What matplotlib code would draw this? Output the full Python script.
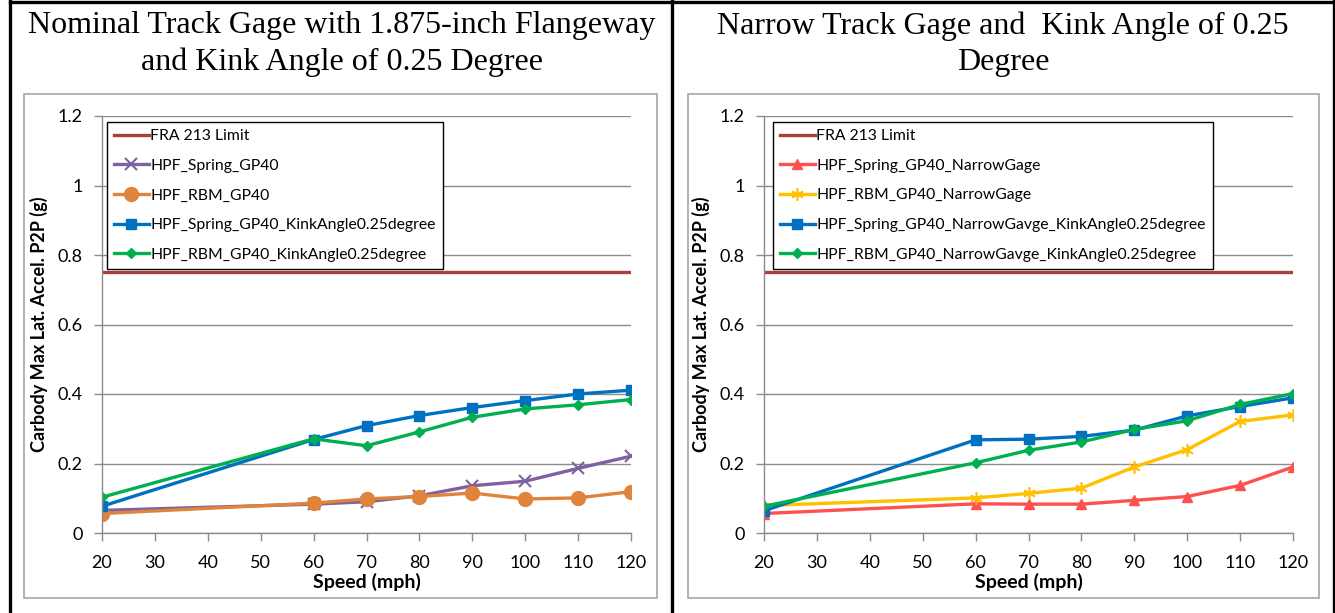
import matplotlib
matplotlib.use("Agg")
import matplotlib.pyplot as plt
from matplotlib.patches import Rectangle
from matplotlib.lines import Line2D

speeds = [20, 60, 70, 80, 90, 100, 110, 120]
fra_limit = 0.75

# Left chart
spring_gp40 = [0.065, 0.083, 0.090, 0.107, 0.136, 0.149, 0.186, 0.221]
rbm_gp40 = [0.056, 0.086, 0.098, 0.105, 0.115, 0.098, 0.101, 0.119]
spring_kink = [0.077, 0.269, 0.309, 0.338, 0.361, 0.381, 0.400, 0.411]
rbm_kink = [0.103, 0.271, 0.251, 0.291, 0.333, 0.357, 0.369, 0.384]

# Right chart
spring_narrow = [0.056, 0.084, 0.083, 0.083, 0.094, 0.105, 0.137, 0.190]
rbm_narrow = [0.079, 0.101, 0.114, 0.129, 0.190, 0.240, 0.321, 0.340]
spring_narrow_kink = [0.064, 0.268, 0.270, 0.278, 0.296, 0.337, 0.364, 0.389]
rbm_narrow_kink = [0.077, 0.202, 0.238, 0.262, 0.298, 0.323, 0.370, 0.401]

title_left = "Nominal Track Gage with 1.875-inch Flangeway\nand Kink Angle of 0.25 Degree"
title_right = "Narrow Track Gage and  Kink Angle of 0.25\nDegree"
ylabel = "Carbody Max Lat. Accel. P2P (g)"
xlabel = "Speed (mph)"
x_ticks = [20, 30, 40, 50, 60, 70, 80, 90, 100, 110, 120]
y_ticks = [0, 0.2, 0.4, 0.6, 0.8, 1.0, 1.2]
y_ticklabels = ["0", "0.2", "0.4", "0.6", "0.8", "1", "1.2"]

W, H = 1335, 613
fig = plt.figure(figsize=(W / 100, H / 100), dpi=100)
plt.rcParams['font.family'] = ['Lato', 'DejaVu Sans']

def fx(px):
    return px / W

def fy(py):
    return 1 - py / H

# outer table lines
for (x0, y0, x1, y1) in [(10, 1.5, 1334, 1.5), (10, 0, 10, H), (1333.5, 0, 1333.5, H), (672, 0, 672, H)]:
    fig.add_artist(Line2D([fx(x0), fx(x1)], [fy(y0), fy(y1)], color='black', lw=2.4))

# chart boxes
for (x0, x1) in [(24, 657), (688, 1319)]:
    fig.add_artist(Rectangle((fx(x0), fy(598)), fx(x1 - x0), (598 - 94) / H,
                             fill=False, edgecolor='#A6A6A6', lw=1.2))

# titles
fig.text(fx(342), fy(44), title_left, ha='center', va='center', family='Liberation Serif',
         fontsize=23, linespacing=1.33)
fig.text(fx(1003), fy(44), title_right, ha='center', va='center', family='Liberation Serif',
         fontsize=23, linespacing=1.33)

def setup_axes(ax):
    ax.set_xlim(20, 120)
    ax.set_ylim(0, 1.2)
    ax.set_xticks(x_ticks)
    ax.set_yticks(y_ticks)
    ax.set_yticklabels(y_ticklabels)
    ax.yaxis.grid(True, color='#8C8C8C', lw=1.0)
    ax.set_axisbelow(True)
    for s in ['top', 'right']:
        ax.spines[s].set_visible(False)
    for s in ['left', 'bottom']:
        ax.spines[s].set_color('#8C8C8C')
        ax.spines[s].set_linewidth(1.0)
    ax.tick_params(axis='both', colors='#8C8C8C', labelcolor='black', labelsize=13, length=6, width=1.0)
    ax.tick_params(axis='x', pad=10)
    ax.tick_params(axis='y', pad=8)
    ax.set_xlabel(xlabel, fontsize=14, fontweight='bold', labelpad=1)
    ax.set_ylabel(ylabel, fontsize=13, fontweight='bold', labelpad=7)
    ax.patch.set_alpha(0)

axL = fig.add_axes([fx(102), fy(533), fx(631 - 102), (533 - 116) / H])
axR = fig.add_axes([fx(764), fy(533), fx(1293 - 764), (533 - 116) / H])

lw = 2.4
axL.plot(speeds, [fra_limit] * len(speeds), color='#A9403D', lw=lw, label='FRA 213 Limit')
axL.plot(speeds, spring_gp40, color='#7F60A0', lw=lw, marker='x', ms=9, mew=1.5, label='HPF_Spring_GP40')
axL.plot(speeds, rbm_gp40, color='#E0843C', lw=lw, marker='o', ms=10, label='HPF_RBM_GP40')
axL.plot(speeds, spring_kink, color='#0070C0', lw=lw, marker='s', ms=7.5, label='HPF_Spring_GP40_KinkAngle0.25degree')
axL.plot(speeds, rbm_kink, color='#00B050', lw=lw, marker='D', ms=5, label='HPF_RBM_GP40_KinkAngle0.25degree')

axR.plot(speeds, [fra_limit] * len(speeds), color='#A9403D', lw=lw, label='FRA 213 Limit')
axR.plot(speeds, spring_narrow, color='#FF5050', lw=lw, marker='^', ms=7, label='HPF_Spring_GP40_NarrowGage')
axR.plot(speeds, rbm_narrow, color='#FFC000', lw=lw, marker=(6, 2, 0), ms=9, mew=1.2, label='HPF_RBM_GP40_NarrowGage')
axR.plot(speeds, spring_narrow_kink, color='#0070C0', lw=lw, marker='s', ms=7.5, label='HPF_Spring_GP40_NarrowGavge_KinkAngle0.25degree')
axR.plot(speeds, rbm_narrow_kink, color='#00B050', lw=lw, marker='D', ms=5, label='HPF_RBM_GP40_NarrowGavge_KinkAngle0.25degree')

for ax, lx in [(axL, 107), (axR, 773)]:
    setup_axes(ax)
    x0 = 102 if ax is axL else 764
    leg = ax.legend(loc='upper left', bbox_to_anchor=((lx - x0) / 529, (533 - 122) / 417),
                    borderaxespad=0, fontsize=11.3, frameon=True, fancybox=False,
                    edgecolor='black', framealpha=1, handlelength=2.2, handletextpad=0.1,
                    labelspacing=1.0, borderpad=0.45)
    leg.get_frame().set_linewidth(1.0)

fig.savefig('out.png', dpi=100)
